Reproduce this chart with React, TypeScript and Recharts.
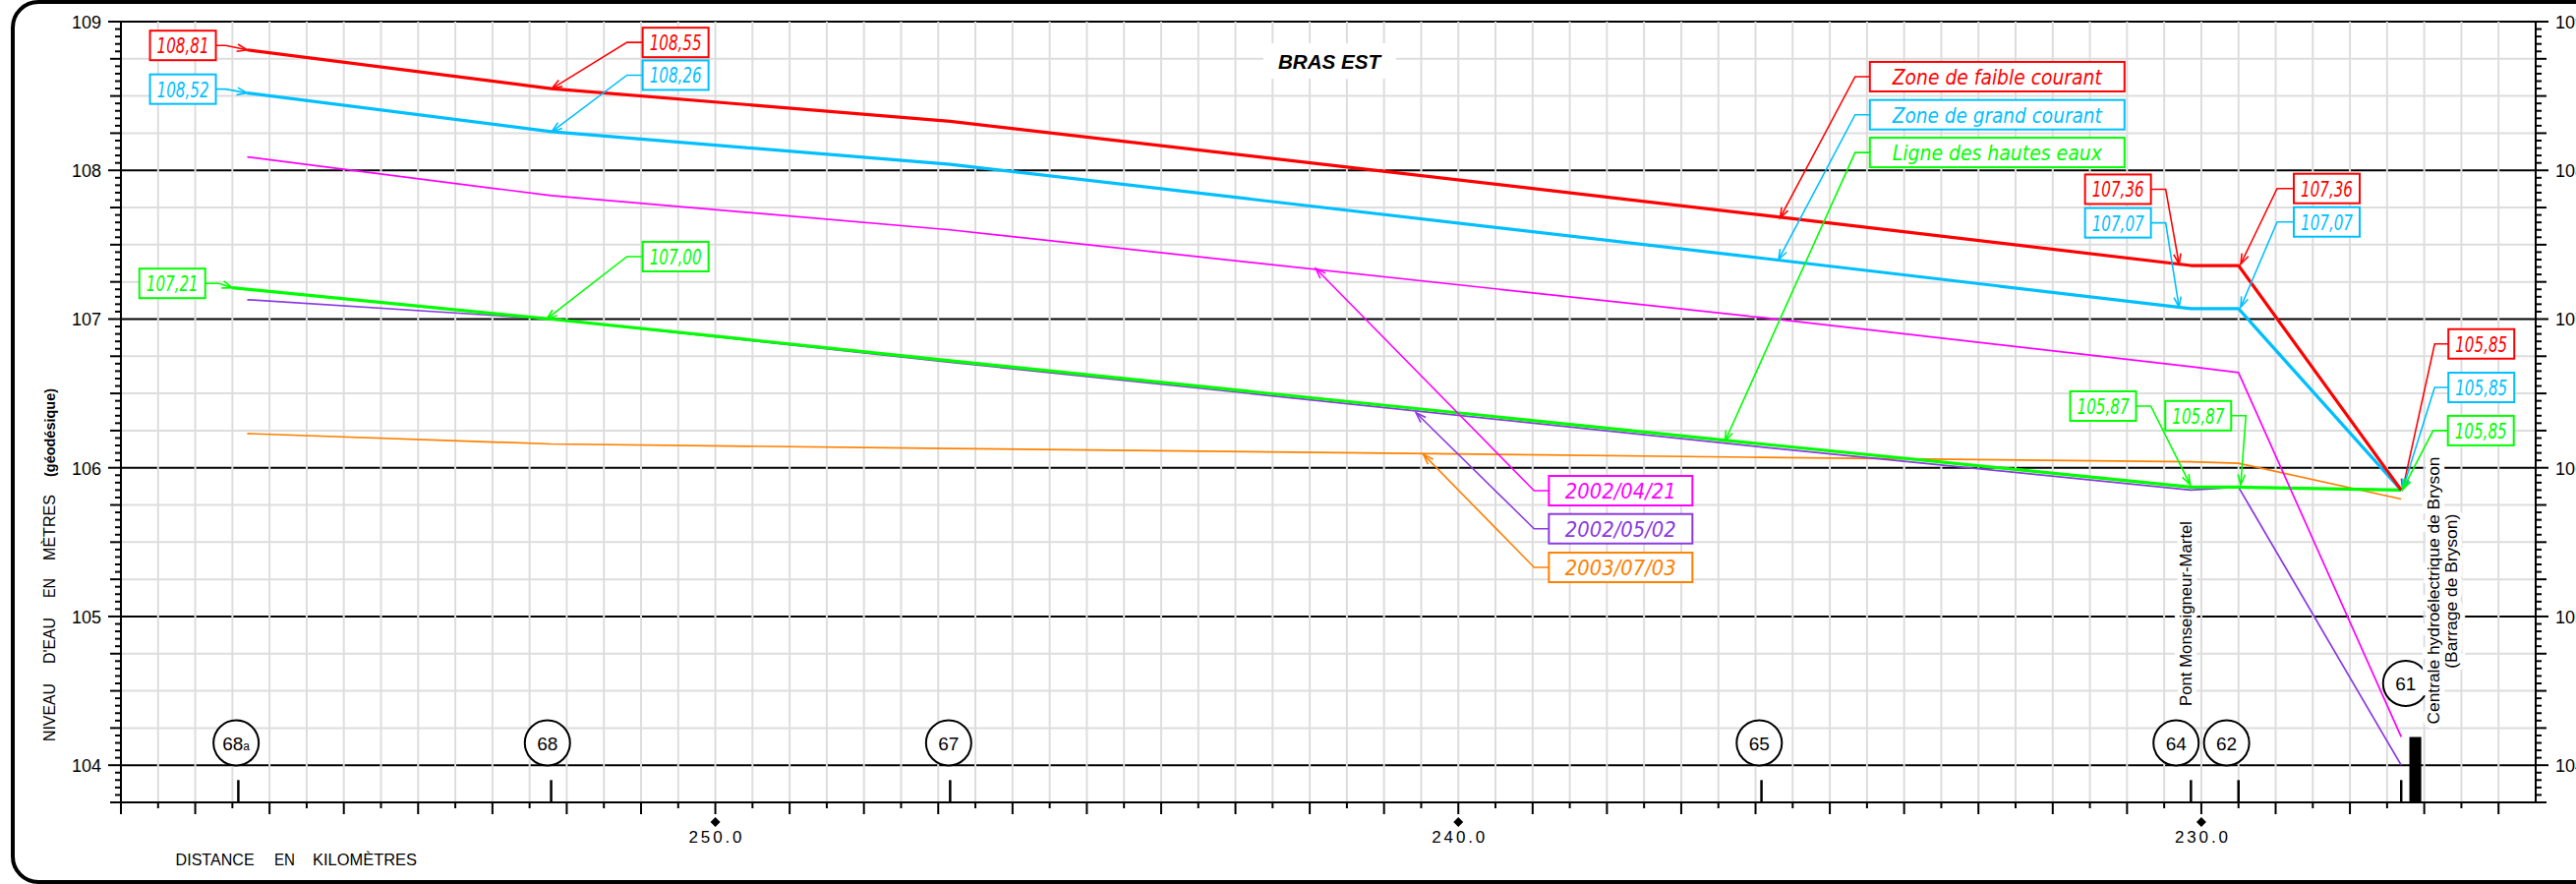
import React from "react";
import {
  LineChart,
  Line,
  XAxis,
  YAxis,
  CartesianGrid,
  ReferenceLine,
  ReferenceDot,
  ReferenceArea,
} from "recharts";

const W = 2620;
const H = 899;

const RED = "#ff0000";
const BLUE = "#00bfff";
const GREEN = "#00ff00";
const MAGENTA = "#ff00ff";
const PURPLE = "#8b3ae2";
const ORANGE = "#ff8000";

const SANS = "'Liberation Sans', 'DejaVu Sans', sans-serif";
const CAD = "'DejaVu Sans Condensed', 'Liberation Sans Narrow', 'DejaVu Sans', sans-serif";

// distance (km) of the cross sections
const kmSections = [256.3, 252.21, 246.84, 235.92, 230.14, 229.5, 227.31];
const kmHautesEaux = [256.5, 252.21, 246.84, 235.92, 230.14, 229.5, 227.31];

// water levels (m)
const faibleCourant = [108.81, 108.55, 108.33, 107.7, 107.36, 107.36, 105.85];
const grandCourant = [108.52, 108.26, 108.04, 107.41, 107.07, 107.07, 105.85];
const hautesEaux = [107.21, 107.0, 106.72, 106.16, 105.87, 105.87, 105.85];
const releve20020421 = [108.09, 107.83, 107.6, 107.01, 106.68, 106.64, 104.19];
const releve20020502 = [107.13, 107.0, 106.71, 106.14, 105.85, 105.87, 104.0];
const releve20030703 = [106.23, 106.16, 106.13, 106.07, 106.04, 106.03, 105.79];

// stations
const stationNames = ["68a", "68", "67", "65", "64", "62", "61"];
const stationTickKm = [256.42, 252.21, 246.84, 235.92, 230.14, 229.5, 227.31];
const stationBubbleKm = [256.45, 252.26, 246.86, 235.95, 230.34, 229.66, 227.25];
const stationBubbleLevel = [104.15, 104.15, 104.15, 104.15, 104.15, 104.15, 104.55];

const mainLevels = [104, 105, 106, 107, 108, 109];
const round2 = (v: number) => Math.round(v * 100) / 100;
const isMultiple = (v: number, step: number) => Math.abs(v / step - Math.round(v / step)) < 1e-6;
const levelTicks = Array.from({ length: 106 }, (_, i) => round2(103.75 + i * 0.05));
const gridLevels = Array.from({ length: 22 }, (_, i) => round2(103.75 + i * 0.25)).filter(
  (v) => !isMultiple(v, 1)
);
const kmTicks = Array.from({ length: 65 }, (_, i) => 226 + i * 0.5);
const gridKm = Array.from({ length: 66 }, (_, i) => 225.5 + i * 0.5);

const toRows = (km: number[], values: number[]) => km.map((k, i) => ({ km: k, level: values[i] }));

const series = [
  { key: "o", rows: toRows(kmSections, releve20030703), color: ORANGE, width: 1.7 },
  { key: "p", rows: toRows(kmSections, releve20020502), color: PURPLE, width: 1.7 },
  { key: "g", rows: toRows(kmHautesEaux, hautesEaux), color: GREEN, width: 3.2 },
  { key: "m", rows: toRows(kmSections, releve20020421), color: MAGENTA, width: 1.7 },
  { key: "b", rows: toRows(kmSections, grandCourant), color: BLUE, width: 3.2 },
  { key: "r", rows: toRows(kmSections, faibleCourant), color: RED, width: 3.2 },
];

type Callout = {
  text: string;
  color: string;
  tKm: number;
  tLvl: number;
  eKm: number;
  eLvl: number;
  side: "left" | "right";
  stub: number;
  w: number;
};

const callouts: Callout[] = [
  { text: "108,81", color: RED, tKm: 256.3, tLvl: 108.81, eKm: 256.59, eLvl: 108.84, side: "left", stub: 10, w: 67 },
  { text: "108,52", color: BLUE, tKm: 256.3, tLvl: 108.52, eKm: 256.59, eLvl: 108.546, side: "left", stub: 10, w: 67 },
  { text: "107,21", color: GREEN, tKm: 256.5, tLvl: 107.21, eKm: 256.68, eLvl: 107.24, side: "left", stub: 14, w: 67 },
  { text: "108,55", color: RED, tKm: 252.2, tLvl: 108.55, eKm: 251.19, eLvl: 108.86, side: "right", stub: 16, w: 67 },
  { text: "108,26", color: BLUE, tKm: 252.2, tLvl: 108.26, eKm: 251.19, eLvl: 108.64, side: "right", stub: 16, w: 67 },
  { text: "107,00", color: GREEN, tKm: 252.27, tLvl: 107.0, eKm: 251.19, eLvl: 107.42, side: "right", stub: 16, w: 67 },
  { text: "Zone de faible courant", color: RED, tKm: 235.67, tLvl: 107.68, eKm: 234.66, eLvl: 108.63, side: "right", stub: 15, w: 259 },
  { text: "Zone de grand courant", color: BLUE, tKm: 235.69, tLvl: 107.4, eKm: 234.66, eLvl: 108.374, side: "right", stub: 15, w: 259 },
  { text: "Ligne des hautes eaux", color: GREEN, tKm: 236.41, tLvl: 106.18, eKm: 234.66, eLvl: 108.12, side: "right", stub: 15, w: 259 },
  { text: "2002/04/21", color: MAGENTA, tKm: 241.92, tLvl: 107.34, eKm: 238.98, eLvl: 105.846, side: "right", stub: 15, w: 146 },
  { text: "2002/05/02", color: PURPLE, tKm: 240.57, tLvl: 106.37, eKm: 238.98, eLvl: 105.59, side: "right", stub: 15, w: 146 },
  { text: "2003/07/03", color: ORANGE, tKm: 240.47, tLvl: 106.09, eKm: 238.98, eLvl: 105.33, side: "right", stub: 15, w: 146 },
  { text: "107,36", color: RED, tKm: 230.3, tLvl: 107.37, eKm: 230.48, eLvl: 107.873, side: "left", stub: 15, w: 67 },
  { text: "107,07", color: BLUE, tKm: 230.3, tLvl: 107.08, eKm: 230.48, eLvl: 107.647, side: "left", stub: 15, w: 67 },
  { text: "107,36", color: RED, tKm: 229.47, tLvl: 107.37, eKm: 228.98, eLvl: 107.878, side: "right", stub: 17, w: 67 },
  { text: "107,07", color: BLUE, tKm: 229.47, tLvl: 107.08, eKm: 228.98, eLvl: 107.653, side: "right", stub: 17, w: 67 },
  { text: "105,85", color: RED, tKm: 227.29, tLvl: 105.855, eKm: 226.86, eLvl: 106.833, side: "right", stub: 14, w: 67 },
  { text: "105,85", color: BLUE, tKm: 227.29, tLvl: 105.855, eKm: 226.86, eLvl: 106.54, side: "right", stub: 14, w: 67 },
  { text: "105,85", color: GREEN, tKm: 227.29, tLvl: 105.855, eKm: 226.88, eLvl: 106.25, side: "right", stub: 15, w: 67 },
  { text: "105,87", color: GREEN, tKm: 230.15, tLvl: 105.886, eKm: 230.68, eLvl: 106.415, side: "left", stub: 15, w: 67 },
  { text: "105,87", color: GREEN, tKm: 229.47, tLvl: 105.886, eKm: 229.4, eLvl: 106.35, side: "left", stub: 15, w: 67 },
];

const textLengthFor = (w: number) => (w > 200 ? 213 : w > 100 ? 113 : 53);

const calloutShape = (c: Callout) => (p: any) => {
  const { x1, y1, x2, y2 } = p;
  const dir = c.side === "left" ? -1 : 1;
  const sx = x2 + dir * c.stub;
  const bx = dir < 0 ? sx - c.w : sx;
  const ang = Math.atan2(y1 - y2, x1 - x2);
  const L = 11;
  const s = 0.34;
  const a1 = `${x1 - L * Math.cos(ang - s)},${y1 - L * Math.sin(ang - s)}`;
  const a2 = `${x1 - L * Math.cos(ang + s)},${y1 - L * Math.sin(ang + s)}`;
  return (
    <g>
      <polyline points={`${x1},${y1} ${x2},${y2} ${sx},${y2}`} fill="none" stroke={c.color} strokeWidth={1.6} />
      <polyline points={`${a1} ${x1},${y1} ${a2}`} fill="none" stroke={c.color} strokeWidth={1.6} />
      <rect x={bx} y={y2 - 15} width={c.w} height={30} fill="#fff" stroke={c.color} strokeWidth={2} />
      <text
        x={bx + c.w / 2}
        y={y2 + 8}
        textAnchor="middle"
        fill={c.color}
        fontSize={21}
        fontStyle="italic"
        fontFamily={CAD}
        textLength={textLengthFor(c.w)}
        lengthAdjust="spacingAndGlyphs"
      >
        {c.text}
      </text>
    </g>
  );
};

const bubbleShape = (name: string) => (p: any) => (
  <g>
    <ellipse cx={p.cx} cy={p.cy} rx={23} ry={23} fill="#fff" stroke="#000" strokeWidth={2} />
    <text x={p.cx} y={p.cy + 7} textAnchor="middle" fontSize={19} fontFamily={SANS} fill="#000">
      {name === "68a" ? (
        <>
          68<tspan fontSize={12}>a</tspan>
        </>
      ) : (
        name
      )}
    </text>
  </g>
);

const verticalLabel = (text: string, len: number) => (p: any) => (
  <text
    x={p.cx}
    y={p.cy}
    dy={6}
    transform={`rotate(-90 ${p.cx} ${p.cy})`}
    textAnchor="middle"
    fontSize={17}
    fontFamily={SANS}
    fill="#000"
    stroke="#fff"
    strokeWidth={10}
    paintOrder="stroke"
    textLength={len}
    lengthAdjust="spacingAndGlyphs"
  >
    {text}
  </text>
);

const LeftTick = (props: any) => {
  const { x, y, payload } = props;
  const v = payload.value;
  const whole = isMultiple(v, 1);
  const len = whole ? 13 : isMultiple(v, 0.25) ? 11 : 6;
  return (
    <g>
      <line x1={x - len} x2={x} y1={y} y2={y} stroke="#000" strokeWidth={2} />
      {whole && (
        <text x={x - 20} y={y + 7} textAnchor="end" fontSize={18} fontFamily={SANS} fill="#000">
          {v}
        </text>
      )}
    </g>
  );
};

const RightTick = (props: any) => {
  const { x, y, payload } = props;
  const v = payload.value;
  const whole = isMultiple(v, 1);
  const len = whole ? 13 : isMultiple(v, 0.25) ? 11 : 6;
  return (
    <g>
      <line x1={x} x2={x + len} y1={y} y2={y} stroke="#000" strokeWidth={2} />
      {whole && (
        <text x={x + 20} y={y + 7} textAnchor="start" fontSize={18} fontFamily={SANS} fill="#000">
          {v}
        </text>
      )}
    </g>
  );
};

const KmTick = (props: any) => {
  const { x, y, payload } = props;
  const v = payload.value;
  const len = isMultiple(v, 1) ? 12 : 6;
  const labelled = isMultiple(v, 10);
  return (
    <g>
      <line x1={x} x2={x} y1={y} y2={y + len} stroke="#000" strokeWidth={2} />
      {labelled && (
        <>
          <path d={`M${x} ${y + 15} L${x + 5} ${y + 20} L${x} ${y + 25} L${x - 5} ${y + 20} Z`} fill="#000" />
          <text
            x={x}
            y={y + 41}
            textAnchor="middle"
            fontSize={17}
            fontFamily={SANS}
            fill="#000"
            textLength={54}
            lengthAdjust="spacing"
          >
            {v.toFixed(1)}
          </text>
        </>
      )}
    </g>
  );
};

const yTitleWords = ["NIVEAU", "D'EAU", "EN", "MÈTRES", "(géodésique)"];
const yTitleOffsets = [0, 79, 146, 184, 269];
const yTitleLengths = [59, 47, 20, 67, 90];
const xTitleWords = ["DISTANCE", "EN", "KILOMÈTRES"];
const xTitleX = [178.6, 279, 318];
const xTitleLengths = [80, 21, 106];

export default function App() {
  return (
    <div style={{ position: "absolute", left: 0, top: 0, width: W, height: H, background: "#fff", overflow: "hidden" }}>
      <LineChart width={W} height={H} margin={{ top: 22, right: 11, bottom: 43, left: 63 }}>
        <CartesianGrid vertical={false} horizontalValues={mainLevels} stroke="#000" strokeWidth={2} />
        <CartesianGrid horizontalValues={gridLevels} verticalValues={gridKm} stroke="#dddddd" strokeWidth={2} />
        <XAxis
          dataKey="km"
          type="number"
          domain={[225.5, 258]}
          allowDataOverflow
          reversed
          ticks={kmTicks}
          interval={0}
          tick={(p: any) => <KmTick {...p} />}
          tickLine={false}
          tickSize={0}
          tickMargin={0}
          axisLine={{ stroke: "#000", strokeWidth: 2 }}
          height={40}
        />
        <YAxis
          type="number"
          domain={[103.75, 109]}
          allowDataOverflow
          ticks={levelTicks}
          interval={0}
          tick={(p: any) => <LeftTick {...p} />}
          tickLine={false}
          tickSize={0}
          tickMargin={0}
          axisLine={{ stroke: "#000", strokeWidth: 2 }}
          width={60}
        />
        <YAxis
          yAxisId="right"
          orientation="right"
          type="number"
          domain={[103.75, 109]}
          allowDataOverflow
          ticks={levelTicks}
          interval={0}
          tick={(p: any) => <RightTick {...p} />}
          tickLine={false}
          tickSize={0}
          tickMargin={0}
          axisLine={{ stroke: "#000", strokeWidth: 2 }}
          width={30}
        />

        {stationNames.map((name, i) => (
          <ReferenceLine
            key={`st-${name}`}
            segment={[
              { x: stationTickKm[i], y: 103.75 },
              { x: stationTickKm[i], y: 103.9 },
            ]}
            stroke="#000"
            strokeWidth={2.5}
            ifOverflow="visible"
          />
        ))}
        <ReferenceArea x1={227.2} x2={227.04} y1={103.75} y2={104.19} fill="#000" fillOpacity={1} stroke="none" ifOverflow="visible" />

        {stationNames.map((name, i) => (
          <ReferenceDot
            key={`bubble-${name}`}
            x={stationBubbleKm[i]}
            y={stationBubbleLevel[i]}
            r={23}
            ifOverflow="visible"
            zIndex={-50}
            shape={bubbleShape(name)}
          />
        ))}
        <ReferenceDot x={230.21} y={105.02} ifOverflow="visible" zIndex={-50} shape={verticalLabel("Pont Monseigneur-Martel", 188)} />
        <ReferenceDot x={226.87} y={105.175} ifOverflow="visible" zIndex={-50} shape={verticalLabel("Centrale hydroélectrique de Bryson", 272)} />
        <ReferenceDot x={226.64} y={105.17} ifOverflow="visible" zIndex={-50} shape={verticalLabel("(Barrage de Bryson)", 157)} />

        {series.map((s) => (
          <Line
            key={s.key}
            data={s.rows}
            dataKey="level"
            type="linear"
            stroke={s.color}
            strokeWidth={s.width}
            strokeLinejoin="round"
            dot={false}
            activeDot={false}
            isAnimationActive={false}
          />
        ))}

        {callouts.map((c, i) => (
          <ReferenceLine
            key={`c-${i}`}
            segment={[
              { x: c.tKm, y: c.tLvl },
              { x: c.eKm, y: c.eLvl },
            ]}
            ifOverflow="visible"
            shape={calloutShape(c)}
          />
        ))}
      </LineChart>

      <svg width={W} height={H} style={{ position: "absolute", left: 0, top: 0, pointerEvents: "none" }}>
        <path
          d="M 2640 2 H 39 A 26 26 0 0 0 13 28 V 871 A 26 26 0 0 0 39 897 H 2640"
          fill="none"
          stroke="#000"
          strokeWidth={4}
        />
        <rect x={1285} y={44} width={135} height={36} fill="#fff" />
        <text
          x={1352}
          y={70}
          textAnchor="middle"
          fontSize={21}
          fontWeight={900}
          fontStyle="italic"
          fontFamily={SANS}
          fill="#000"
          textLength={104}
          lengthAdjust="spacingAndGlyphs"
        >
          BRAS EST
        </text>
        <g transform="translate(56 754) rotate(-90)">
          {yTitleWords.map((w, i) => (
            <text
              key={w}
              x={yTitleOffsets[i]}
              y={0}
              fontSize={i === 4 ? 14 : 16}
              fontWeight={i === 4 ? 600 : 400}
              fontFamily={SANS}
              fill="#000"
              textLength={yTitleLengths[i]}
              lengthAdjust="spacingAndGlyphs"
            >
              {w}
            </text>
          ))}
        </g>
        {xTitleWords.map((w, i) => (
          <text
            key={w}
            x={xTitleX[i]}
            y={880}
            fontSize={17}
            fontFamily={SANS}
            fill="#000"
            textLength={xTitleLengths[i]}
            lengthAdjust="spacingAndGlyphs"
          >
            {w}
          </text>
        ))}
      </svg>
    </div>
  );
}
